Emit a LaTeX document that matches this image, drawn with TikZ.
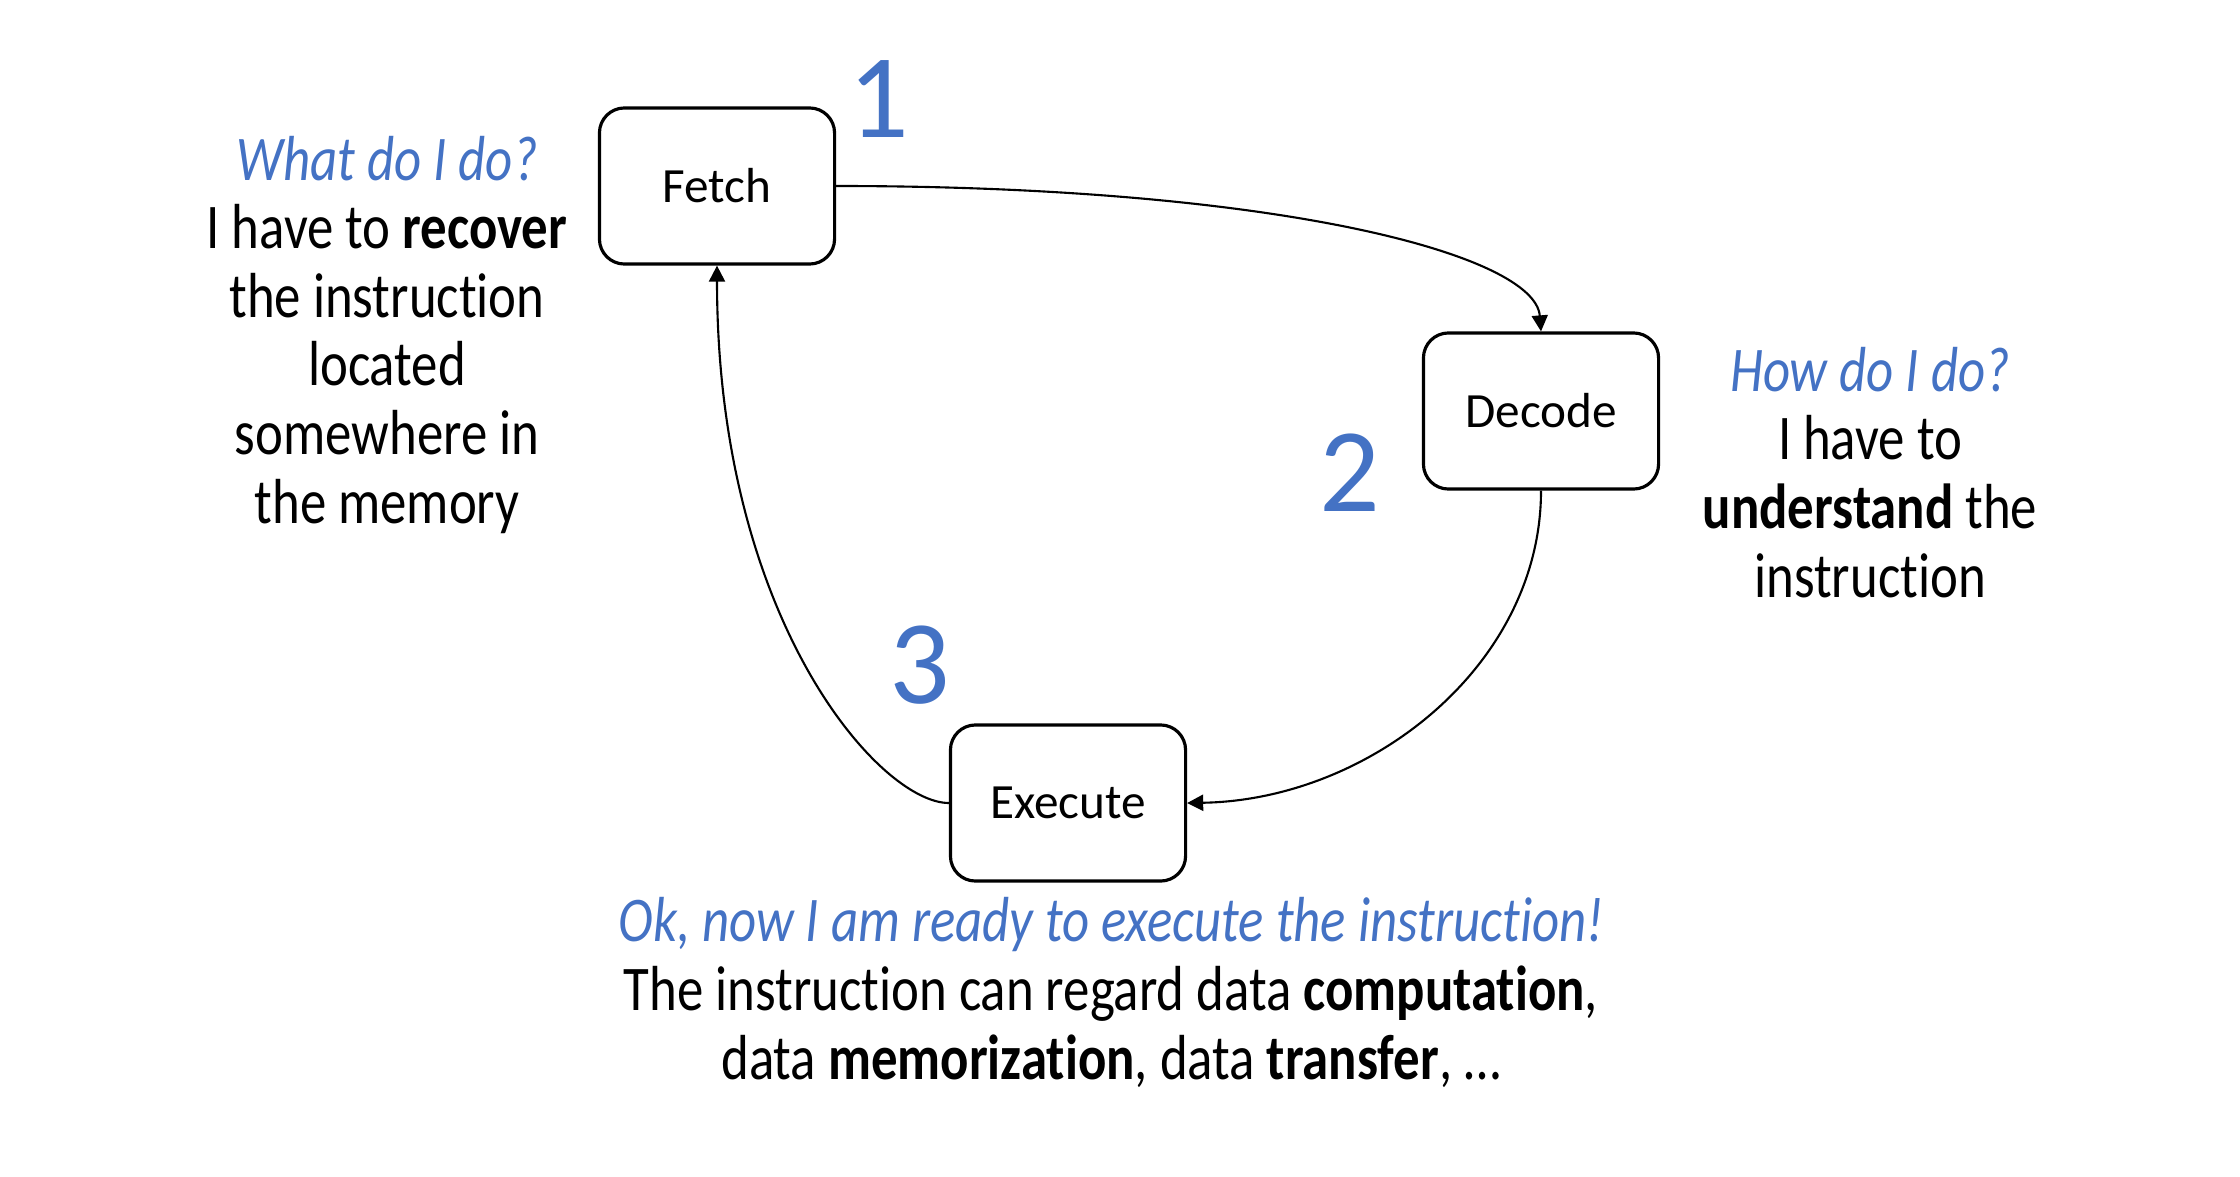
\documentclass[tikz,border=0pt]{standalone}
\usepackage{fontspec}
\setmainfont{Carlito}[Ligatures=NoCommon]
\newfontfamily\descfont{Carlito}[FakeStretch=0.83,Ligatures=NoCommon]
\usetikzlibrary{arrows.meta}
\definecolor{accent}{HTML}{4472C4}
\begin{document}
\begin{tikzpicture}[x=0.01cm,y=-0.01cm,
  stage/.style={draw, line width=0.9pt, rounded corners=0.25cm, minimum width=2.35cm, minimum height=1.56cm, font=\fontsize{14}{16}\selectfont, inner sep=0},
  num/.style={text=accent, font=\fontsize{34}{34}\selectfont, inner sep=0, anchor=base},
  desc/.style={align=center, font=\descfont\fontsize{18.1}{19.5}\selectfont, inner sep=0, anchor=base},
  flow/.style={line width=0.6pt, -{Triangle[length=1.6mm,width=1.6mm]}}]
\useasboundingbox (0,0) rectangle (2240,1176);
\node[stage] (fetch) at (717,186) {Fetch};
\node[stage] (decode) at (1541,411) {Decode};
\node[stage] (execute) at (1068,803) {Execute};
\node[num] (n1) at (879,137) {1};
\node[num] (n2) at (1350,511) {2};
\node[num] (n3) at (920,703) {3};
\node[desc] (whatdo) at (387,523) {{\color{accent}\itshape What do I do?}\\ I have to \textbf{recover}\\ the instruction\\ located\\ somewhere in\\ the memory};
\node[desc] (howdo) at (1870,597) {{\color{accent}\itshape How do I do?}\\ I have to\\ \textbf{understand} the\\ instruction};
\node[desc] (ready) at (1111,1079) {{\color{accent}\itshape Ok, now I am ready to execute the instruction!}\\ The instruction can regard data \textbf{computation},\\ data \textbf{memorization}, data \textbf{transfer}, …};
\draw[flow] (fetch.east) .. controls (1280,186) and (1535,255) .. (decode.north);
\draw[flow] (decode.south) .. controls (1541,665) and (1370,800) .. (execute.east);
\draw[flow] (execute.west) .. controls (880,803) and (717,620) .. (fetch.south);
\end{tikzpicture}
\end{document}
